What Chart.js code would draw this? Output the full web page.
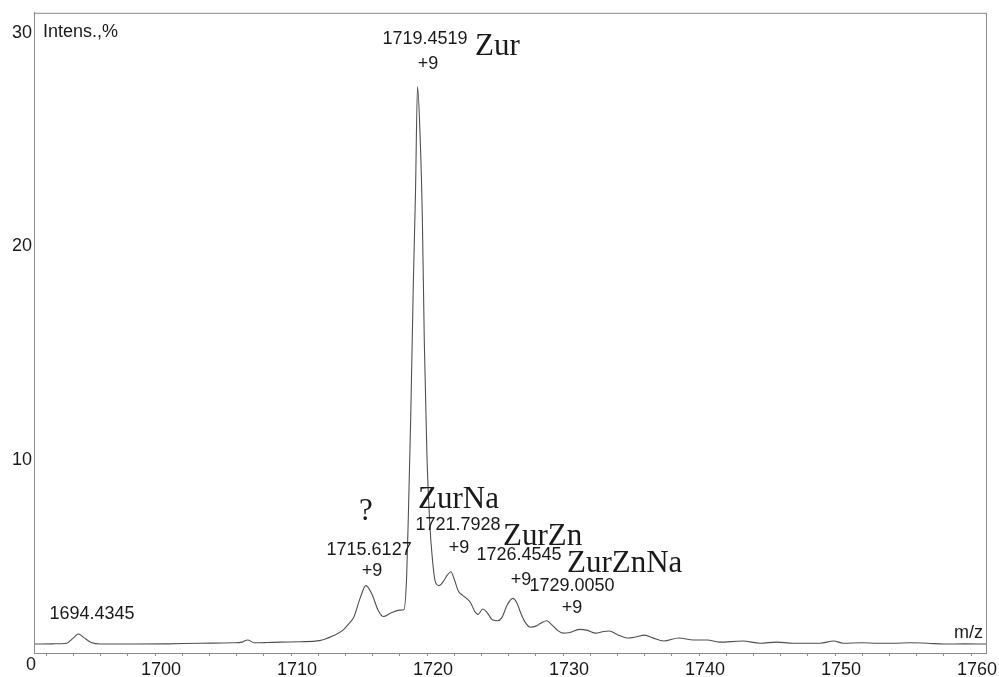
<!DOCTYPE html>
<html>
<head>
<meta charset="utf-8">
<script src="https://cdn.jsdelivr.net/npm/chart.js@4"></script>
<style>
  body { margin: 0; background: #fff; }
</style>
</head>
<body>
<canvas id="myChart" width="999" height="677"></canvas>
<script>
  // m/z positions of the sampled trace
  const mz = [
    1691.1, 1692.5, 1693.5, 1694.0, 1694.35, 1694.8, 1695.3, 1696.0, 1698.4, 1700.9,
    1703.3, 1705.7, 1706.4, 1706.8, 1707.3, 1708.2, 1709.2, 1710.7, 1712.1, 1713.1,
    1713.8, 1714.3, 1714.6, 1715.1, 1715.5, 1715.95, 1716.4, 1716.8, 1717.3, 1718.0,
    1718.3, 1718.5, 1718.65, 1718.8, 1719.0, 1719.15, 1719.3, 1719.5, 1719.65, 1719.8,
    1720.0, 1720.2, 1720.4, 1720.6, 1720.9, 1721.2, 1721.5, 1721.75, 1722.0, 1722.3,
    1722.6, 1722.9, 1723.2, 1723.5, 1723.75, 1724.1, 1724.4, 1724.8, 1725.2, 1725.5,
    1725.9, 1726.3, 1726.6, 1726.9, 1727.2, 1727.6, 1728.0, 1728.4, 1728.8, 1729.2,
    1729.6, 1730.0, 1730.5, 1731.2, 1731.8, 1732.4, 1733.0, 1733.4, 1734.0, 1734.8,
    1735.4, 1736.0, 1736.6, 1737.4, 1738.5, 1739.6, 1740.6, 1741.5, 1743.2, 1744.5,
    1745.7, 1746.9, 1748.9, 1749.9, 1750.6, 1752.0, 1753.1, 1754.3, 1755.5, 1756.8,
    1758.0, 1759.5, 1761.1
  ];

  // intensity, %
  const intens = [
    1.36, 1.37, 1.40, 1.65, 1.83, 1.65, 1.43, 1.36, 1.36, 1.37,
    1.40, 1.42, 1.45, 1.55, 1.42, 1.43, 1.45, 1.47, 1.52, 1.75,
    2.00, 2.35, 2.60, 3.55, 4.10, 3.70, 2.95, 2.65, 2.80, 2.95,
    2.97, 4.50, 8.00, 12.0, 18.5, 22.5, 27.5, 25.0, 21.5, 15.5,
    10.0, 7.00, 5.30, 4.30, 4.10, 4.30, 4.60, 4.75, 4.40, 3.85,
    3.65, 3.50, 3.30, 2.90, 2.75, 3.00, 2.85, 2.50, 2.45, 2.60,
    3.20, 3.50, 3.30, 2.80, 2.40, 2.15, 2.20, 2.35, 2.45, 2.25,
    2.00, 1.87, 1.90, 2.05, 2.00, 1.87, 1.95, 1.97, 1.80, 1.64,
    1.70, 1.78, 1.65, 1.50, 1.64, 1.55, 1.55, 1.45, 1.50, 1.40,
    1.45, 1.40, 1.40, 1.50, 1.40, 1.42, 1.40, 1.40, 1.42, 1.40,
    1.36, 1.37, 1.36
  ];

  const yTicks = [10, 20, 30];
  const xLabels = [1700, 1710, 1720, 1730, 1740, 1750, 1760];
  const xMinorStep = 2;

  // peak annotations: text, m/z, intensity of the label centre
  const peakText = ['1719.4519', '+9', '1694.4345', '1721.7928', '+9', '1715.6127', '1726.4545', '+9', '+9', '1729.0050', '+9'];
  const peakX = [1719.85, 1720.07, 1695.37, 1722.28, 1722.35, 1715.74, 1726.76, 1715.96, 1726.91, 1730.66, 1730.66];
  const peakY = [29.72, 28.57, 2.76, 6.93, 5.85, 5.76, 5.53, 4.78, 4.36, 4.07, 3.04];

  // species names, left edge / baseline
  const speciesText = ['Zur', 'ZurNa', 'ZurZn', 'ZurZnNa', '?'];
  const speciesX = [1723.53, 1719.34, 1725.59, 1730.29, 1715.0];
  const speciesY = [28.99, 7.73, 6.0, 4.73, 7.17];

  const points = mz.map((m, i) => ({ x: m, y: intens[i] }));

  const sans = '"Liberation Sans", Arial, sans-serif';
  const serif = '"Liberation Serif", "Times New Roman", serif';

  const frame = {
    id: 'frame',
    afterDraw(chart) {
      const { ctx, chartArea: a, scales: { x, y } } = chart;
      ctx.save();
      ctx.strokeStyle = '#8a8a8a';
      ctx.lineWidth = 1;
      ctx.strokeRect(a.left + 0.5, a.top + 0.5, a.right - a.left, a.bottom - a.top);

      ctx.fillStyle = '#1a1a1a';
      ctx.font = '18px ' + sans;
      ctx.textAlign = 'center';
      ctx.textBaseline = 'middle';
      peakText.forEach((t, i) => {
        ctx.fillText(t, x.getPixelForValue(peakX[i]), y.getPixelForValue(peakY[i]));
      });
      // axis captions
      ctx.textAlign = 'left';
      ctx.fillText('Intens.,%', a.left + 9, a.top + 19);
      ctx.textAlign = 'right';
      ctx.fillText('m/z', a.right - 3, y.getPixelForValue(1.87));
      ctx.textAlign = 'center';
      ctx.fillText('0', a.left - 3, a.bottom + 12);

      ctx.font = '31px ' + serif;
      ctx.textAlign = 'left';
      ctx.textBaseline = 'alphabetic';
      speciesText.forEach((t, i) => {
        ctx.fillText(t, x.getPixelForValue(speciesX[i]), y.getPixelForValue(speciesY[i]));
      });
      ctx.restore();
    }
  };

  const config = {
    type: 'line',
    data: {
      datasets: [{
        data: points,
        borderColor: '#505050',
        borderWidth: 1.1,
        pointRadius: 0,
        fill: false,
        cubicInterpolationMode: 'monotone'
      }]
    },
    options: {
      responsive: false,
      animation: false,
      layout: { padding: { top: 12, right: 13, left: 0, bottom: 0 } },
      plugins: {
        legend: { display: false },
        tooltip: { enabled: false },
        title: { display: false }
      },
      scales: {
        x: {
          type: 'linear',
          min: 1691.1,
          max: 1761.1,
          afterFit: (s) => { s.height = 24; },
          afterBuildTicks: (s) => {
            const t = [];
            for (let v = Math.ceil(s.min / xMinorStep) * xMinorStep; v <= s.max; v += xMinorStep) t.push({ value: v });
            s.ticks = t;
          },
          grid: { drawOnChartArea: false, drawTicks: true, tickLength: 3, color: '#8a8a8a' },
          border: { display: true, color: '#8a8a8a' },
          ticks: {
            autoSkip: false,
            maxRotation: 0,
            minRotation: 0,
            padding: 5,
            labelOffset: 6,
            color: '#1a1a1a',
            font: { family: sans, size: 18, lineHeight: 1 },
            callback: (v) => (xLabels.includes(Math.round(v)) ? String(Math.round(v)) : '')
          }
        },
        y: {
          type: 'linear',
          min: 0.94,
          max: 30.96,
          afterFit: (s) => { s.width = 34; },
          afterBuildTicks: (s) => { s.ticks = yTicks.map(v => ({ value: v })); },
          grid: { display: false, drawTicks: false },
          border: { display: true, color: '#8a8a8a' },
          ticks: {
            padding: 2,
            color: '#1a1a1a',
            font: { family: sans, size: 18 }
          }
        }
      }
    },
    plugins: [frame]
  };

  const myChart = new Chart(
    document.getElementById('myChart'),
    config
  );
</script>
</body>
</html>
